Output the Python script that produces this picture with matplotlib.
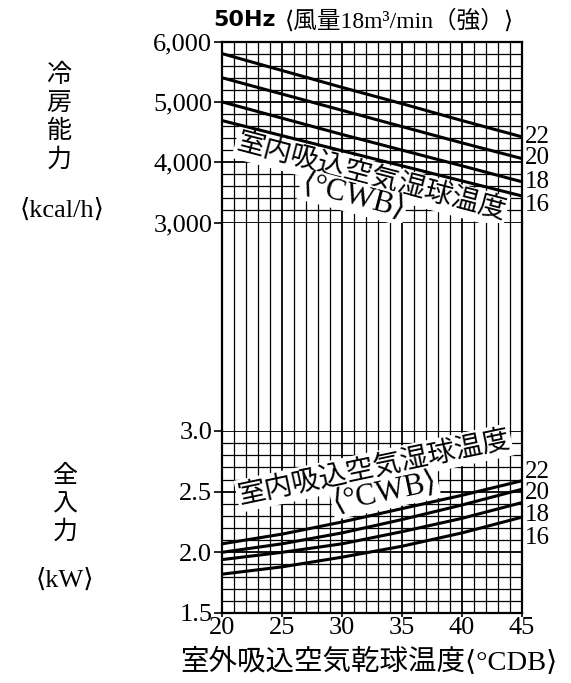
import matplotlib
matplotlib.use('Agg')
import matplotlib.pyplot as plt
from matplotlib.ticker import MultipleLocator, FuncFormatter

# outdoor dry-bulb temperature (°CDB)
outdoor_temp = [20, 25, 30, 35, 40, 45]
wet_bulb_labels = ['22', '20', '18', '16']

# cooling capacity (kcal/h) per indoor wet-bulb temperature
cap_wb22 = [5800, 5520, 5240, 4970, 4690, 4420]
cap_wb20 = [5400, 5130, 4860, 4590, 4320, 4060]
cap_wb18 = [5000, 4730, 4460, 4200, 3940, 3675]
cap_wb16 = [4690, 4440, 4190, 3940, 3690, 3440]

# total power input (kW)
pow_wb22 = [2.07, 2.15, 2.25, 2.36, 2.47, 2.59]
pow_wb20 = [2.00, 2.07, 2.16, 2.27, 2.39, 2.52]
pow_wb18 = [1.94, 2.00, 2.07, 2.17, 2.28, 2.41]
pow_wb16 = [1.82, 1.88, 1.96, 2.05, 2.16, 2.29]

cap_series = [cap_wb22, cap_wb20, cap_wb18, cap_wb16]
pow_series = [pow_wb22, pow_wb20, pow_wb18, pow_wb16]

SERIF = ['Liberation Serif', 'DejaVu Serif', 'DejaVu Sans', 'Noto Sans CJK JP']
CJK = ['Noto Sans CJK JP', 'Liberation Serif']

fig = plt.figure(figsize=(5.71, 6.83), dpi=100)

left, width = 0.3888, 0.5254
ax_top = fig.add_axes([left, 0.6742, width, 0.2650])
ax_mid = fig.add_axes([left, 0.3690, width, 0.3052])
ax_bot = fig.add_axes([left, 0.1025, width, 0.2665])


def style_grid(ax, ymajor=None, yminor=None):
    ax.set_xlim(20, 45)
    ax.xaxis.set_major_locator(MultipleLocator(5))
    ax.xaxis.set_minor_locator(MultipleLocator(1))
    ax.set_axisbelow(True)
    ax.grid(which='major', axis='x', color='black', lw=1.3)
    ax.grid(which='minor', axis='x', color='black', lw=0.9)
    if ymajor is not None:
        ax.yaxis.set_major_locator(MultipleLocator(ymajor))
        ax.yaxis.set_minor_locator(MultipleLocator(yminor))
        ax.grid(which='major', axis='y', color='black', lw=1.3)
        ax.grid(which='minor', axis='y', color='black', lw=0.9)
    for s in ax.spines.values():
        s.set_linewidth(1.6)
    ax.tick_params(which='minor', length=0)
    ax.tick_params(which='major', axis='y', direction='out', length=6, width=1.2,
                   labelsize=19, pad=1)
    ax.tick_params(which='major', axis='x', length=0, labelbottom=False)


# top: cooling capacity
style_grid(ax_top, 1000, 200)
ax_top.set_ylim(3000, 6000)
ax_top.yaxis.set_major_formatter(FuncFormatter(lambda v, p: f'{int(v):,}'))
for lab in ax_top.get_yticklabels():
    lab.set_family(SERIF)
ax_top.spines['bottom'].set_visible(False)
for vals in cap_series:
    ax_top.plot(outdoor_temp, vals, color='black', lw=2.2, zorder=5,
                solid_capstyle='butt')

# middle: vertical lines only
style_grid(ax_mid)
ax_mid.set_ylim(0, 1)
ax_mid.set_yticks([])
ax_mid.spines['top'].set_visible(False)
ax_mid.spines['bottom'].set_visible(False)

# bottom: power input
style_grid(ax_bot, 0.5, 0.1)
ax_bot.set_ylim(1.5, 3.0)
ax_bot.yaxis.set_major_formatter(FuncFormatter(lambda v, p: f'{v:.1f}'))
ax_bot.tick_params(which='major', axis='x', length=3, width=1.2,
                   labelbottom=True, labelsize=19, pad=0)
for lab in ax_bot.get_yticklabels() + ax_bot.get_xticklabels():
    lab.set_family(SERIF)
ax_bot.spines['top'].set_visible(False)
for vals in pow_series:
    ax_bot.plot(outdoor_temp, vals, color='black', lw=2.2, zorder=5,
                solid_capstyle='butt')

# wet-bulb labels at right
top_label_y = [4422, 4069, 3676, 3290]
bot_label_y = [2.665, 2.489, 2.308, 2.118]
for lab, y in zip(wet_bulb_labels, top_label_y):
    ax_top.text(45.2, y, lab, ha='left', va='center', fontsize=18,
                family=SERIF, clip_on=False)
for lab, y in zip(wet_bulb_labels, bot_label_y):
    ax_bot.text(45.2, y, lab, ha='left', va='center', fontsize=18,
                family=SERIF, clip_on=False)

box = dict(boxstyle='square,pad=0.05', fc='white', ec='none')
ax_top.text(32.42, 3746, '室内吸込空気湿球温度', rotation=-14.7,
            rotation_mode='anchor', ha='center', va='center', fontsize=20,
            family=CJK, bbox=box, zorder=3)
ax_top.text(30.92, 3423, '⟨°CWB⟩', rotation=-14.7, rotation_mode='anchor',
            ha='center', va='center', fontsize=22, family=SERIF, bbox=box,
            zorder=3)
ax_bot.text(32.67, 2.695, '室内吸込空気湿球温度', rotation=11.9,
            rotation_mode='anchor', ha='center', va='center', fontsize=20,
            family=CJK, bbox=box, zorder=3)
ax_bot.text(33.58, 2.489, '⟨°CWB⟩', rotation=11.9, rotation_mode='anchor',
            ha='center', va='center', fontsize=22, family=SERIF, bbox=box,
            zorder=3)

# title
fig.text(213 / 571, 1 - 20 / 683, '50Hz', ha='left', va='center',
         fontsize=16, fontweight='bold', family='DejaVu Sans')
fig.text(285 / 571, 1 - 21 / 683, '⟨風量18m³/min（強）⟩', ha='left',
         va='center', fontsize=17, family=SERIF)

# left axis titles
for ch, yp in zip('冷房能力', [75, 103, 131, 160]):
    fig.text(59 / 571, 1 - yp / 683, ch, ha='center', va='center',
             fontsize=18, family=CJK)
fig.text(62 / 571, 1 - 210 / 683, '⟨kcal/h⟩', ha='center', va='center',
         fontsize=19, family=SERIF)
for ch, yp in zip('全入力', [476, 504, 532]):
    fig.text(65 / 571, 1 - yp / 683, ch, ha='center', va='center',
             fontsize=18, family=CJK)
fig.text(65 / 571, 1 - 580 / 683, '⟨kW⟩', ha='center', va='center',
         fontsize=19, family=SERIF)

# x axis title
fig.text(369 / 571, 1 - 662 / 683, '室外吸込空気乾球温度⟨°CDB⟩', ha='center',
         va='center', fontsize=20.5, family=SERIF)

fig.savefig('out.png', dpi=100)
